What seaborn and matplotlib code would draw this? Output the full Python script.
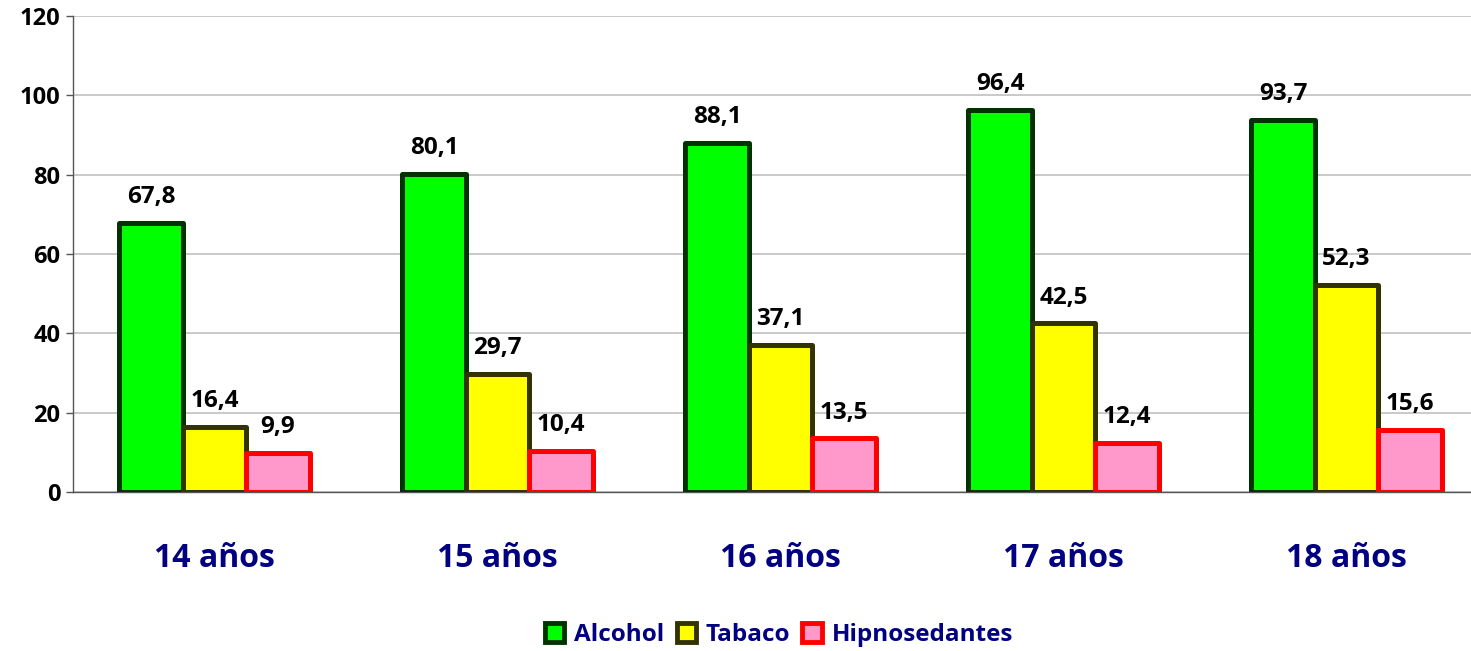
import numpy as np
import pandas as pd
import matplotlib
matplotlib.use("Agg")
import matplotlib.pyplot as plt
from matplotlib.patches import Patch
import seaborn as sns

# data
edades = ['14 años', '15 años', '16 años', '17 años', '18 años']
sustancias = ['Alcohol', 'Tabaco', 'Hipnosedantes']
alcohol = [67.8, 80.1, 88.1, 96.4, 93.7]
tabaco = [16.4, 29.7, 37.1, 42.5, 52.3]
hipnosedantes = [9.9, 10.4, 13.5, 12.4, 15.6]

face_colors = ['#00FF00', '#FFFF00', '#FF99CC']
edge_colors = ['#003300', '#333300', '#FF0000']
navy = '#000080'

df = pd.DataFrame({
    'edad': edades * 3,
    'sustancia': [s for s in sustancias for _ in edades],
    'valor': alcohol + tabaco + hipnosedantes,
})

sns.set_style('white')
plt.rcParams['font.family'] = ['Open Sans', 'DejaVu Sans']

fig = plt.figure(figsize=(14.71, 6.51), dpi=100)
ax = fig.add_axes([73 / 1471, 159 / 651, 1 - 73 / 1471, 476 / 651])

sns.barplot(data=df, x='edad', y='valor', hue='sustancia', order=edades,
            hue_order=sustancias, palette=face_colors, width=0.672, gap=0,
            saturation=1, legend=False, ax=ax, zorder=3)

for cont, ec in zip(ax.containers, edge_colors):
    for bar in cont:
        bar.set_edgecolor(ec)
        bar.set_linewidth(3.6)
        bar.set_joinstyle('round')
    labels = [f'{v:.1f}'.replace('.', ',') for v in cont.datavalues]
    ax.bar_label(cont, labels=labels, padding=10, fontsize=17.5,
                 fontweight='bold', color='black')

ax.set_ylim(0, 120)
ax.set_yticks(range(0, 121, 20))
ax.yaxis.grid(True, color='#c0c0c0', linewidth=1.2, zorder=0)
ax.set_axisbelow(True)

ax.set_xlabel('')
ax.set_ylabel('')
ax.tick_params(axis='x', length=0, pad=36, labelsize=23, labelcolor=navy)
for t in ax.get_xticklabels():
    t.set_fontweight('bold')
ax.set_xticks(np.arange(-0.5, 4.6, 1), minor=True)
ax.set_xlim(-0.5, -0.5 + (1471 - 73) / 283)
ax.tick_params(axis='x', which='minor', length=10, width=1, color='#555555')
ax.tick_params(axis='y', length=5, width=1, color='#555555', labelsize=17,
               labelcolor='black', pad=4, left=True)
for t in ax.get_yticklabels():
    t.set_fontweight('bold')

sns.despine(ax=ax, top=True, right=True)
for side in ['left', 'bottom']:
    ax.spines[side].set_color('#555555')
    ax.spines[side].set_linewidth(1)

handles = [Patch(facecolor=fc, edgecolor=ec, linewidth=3.5, label=s)
           for fc, ec, s in zip(face_colors, edge_colors, sustancias)]
leg = fig.legend(handles=handles, loc='center', bbox_to_anchor=(779 / 1471, 16 / 651),
                 ncol=3, frameon=False, handlelength=0.8, handleheight=0.8,
                 handletextpad=0.4, columnspacing=0.5,
                 prop={'weight': 'bold', 'size': 17.5})
for t in leg.get_texts():
    t.set_color(navy)

fig.savefig('out.png', dpi=100)
